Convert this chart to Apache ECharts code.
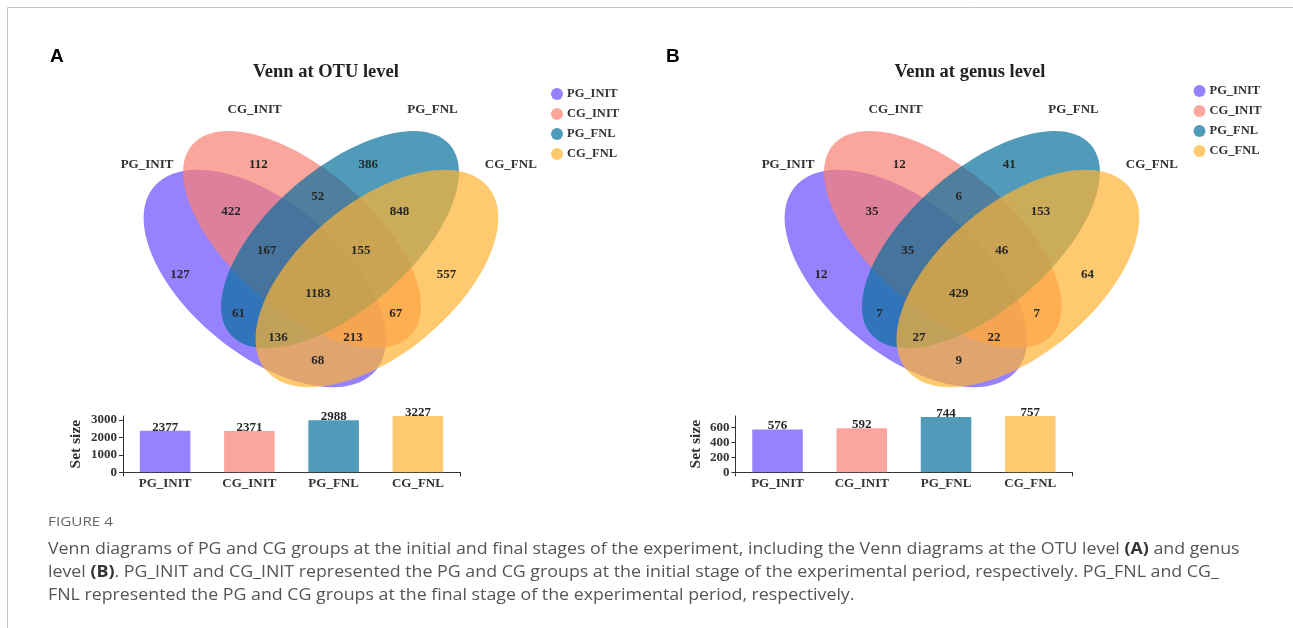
<!DOCTYPE html>
<html><head><meta charset="utf-8">
<script src="https://cdn.jsdelivr.net/npm/echarts@6/dist/echarts.min.js"></script>
<style>html,body{margin:0;padding:0;background:#fff}#c{width:1293px;height:628px}</style>
</head><body><div id="c"></div>
<script>
// ---------------- DATA ----------------
const setNames = ['PG_INIT', 'CG_INIT', 'PG_FNL', 'CG_FNL'];
// region membership code: one digit per set in setNames order
const regionKeys = ['1000','0100','0010','0001','1100','0110','0011','1010','0101','1001','1110','0111','1011','1101','1111'];
const otuRegionCounts   = [127, 112, 386, 557, 422, 52, 848, 61, 67, 68, 167, 155, 136, 213, 1183];
const genusRegionCounts = [12, 12, 41, 64, 35, 6, 153, 7, 7, 9, 35, 46, 27, 22, 429];
const otuSetSizes   = [2377, 2371, 2988, 3227];
const genusSetSizes = [576, 592, 744, 757];
const otuTickStep = 1000;
const genusTickStep = 200;
const panelLetters = ['A', 'B'];
const panelTitles = ['Venn at OTU level', 'Venn at genus level'];
const yAxisName = 'Set size';
const captionHead = 'FIGURE 4';
const captionLines = [
  'Venn diagrams of PG and CG groups at the initial and final stages of the experiment, including the Venn diagrams at the OTU level {b|(A)} and genus',
  'level {b|(B)}. PG_INIT and CG_INIT represented the PG and CG groups at the initial stage of the experimental period, respectively. PG_FNL and CG_',
  'FNL represented the PG and CG groups at the final stage of the experimental period, respectively.'
];

// ---------------- LAYOUT / STYLE ----------------
const setColors = ['rgba(105,76,255,0.7)', 'rgba(250,128,114,0.7)', 'rgba(5,111,156,0.7)', 'rgba(255,180,50,0.7)'];
// ellipse geometry in venn units (grid = 4 x 3 units)
const ellipseGeom = [
  [1.44, 1.785, 1.44, 0.76, -39.4],
  [1.81, 1.395, 1.45, 0.70, -40.8],
  [2.19, 1.395, 1.45, 0.70, 40.8],
  [2.56, 1.785, 1.44, 0.76, 39.4]
];
const regionAnchors = {
  '1000': [0.59, 1.743], '0100': [1.373, 0.65], '0010': [2.472, 0.65], '0001': [3.256, 1.743],
  '1100': [1.10, 1.12], '0110': [1.968, 0.967], '0011': [2.785, 1.12],
  '1010': [1.175, 2.133], '0101': [2.747, 2.133], '1001': [1.968, 2.607],
  '1110': [1.458, 1.51], '0111': [2.398, 1.51], '1011': [1.571, 2.373], '1101': [2.32, 2.373],
  '1111': [1.968, 1.94]
};
const setLabelAnchors = [[0.26, 0.65], [1.336, 0.10], [3.115, 0.10], [3.898, 0.65]];
const SERIF = '"Liberation Serif", "Times New Roman", serif';
const vennGrids = [{left: 121, top: 100, width: 400, height: 300}, {left: 762, top: 100, width: 400, height: 300}];
const barGrids = [{left: 123, top: 416, width: 337, height: 56.3}, {left: 735.4, top: 416, width: 337, height: 56.3}];

// measure caption to fit width
function measure(text, font) {
  const ctx = document.createElement('canvas').getContext('2d');
  ctx.font = font;
  return ctx.measureText(text.replace(/\{b\|([^}]*)\}/g, '$1')).width;
}
const capFont = '16px "Open Sans"';
const capScale = 1189 / measure(captionLines[0], capFont);
const headScale = 65 / measure(captionHead, '13px "Open Sans"');

const chart = echarts.init(document.getElementById('c'), null, {renderer: 'canvas'});

const grids = [], xAxes = [], yAxes = [], series = [];
[0, 1].forEach(p => grids.push(vennGrids[p]));
[0, 1].forEach(p => grids.push(barGrids[p]));

// venn axes
[0, 1].forEach(p => {
  xAxes.push({type: 'value', gridIndex: p, min: 0, max: 4, show: false});
  yAxes.push({type: 'value', gridIndex: p, min: 0, max: 3, inverse: true, show: false});
});
// bar axes
const setSizes = [otuSetSizes, genusSetSizes];
const steps = [otuTickStep, genusTickStep];
const nameGaps = [39, 31];
const barX = [], barY = [];
[0, 1].forEach(p => {
  const gi = 2 + p;
  barX.push(xAxes.length);
  xAxes.push({
    type: 'category', gridIndex: gi, data: setNames, position: 'bottom',
    axisLine: {show: false}, axisTick: {show: false},
    axisLabel: {margin: 5, fontFamily: SERIF, fontWeight: 'bold', fontSize: 13, color: '#333'}
  });
  xAxes.push({
    type: 'value', gridIndex: gi, min: 0, max: 4, interval: 4, position: 'bottom',
    axisLine: {show: true, lineStyle: {color: '#333', width: 1}},
    axisTick: {show: true, length: 4, lineStyle: {color: '#333'}},
    axisLabel: {show: false}, splitLine: {show: false}
  });
  barY.push(yAxes.length);
  yAxes.push({
    type: 'value', gridIndex: gi, min: 0, max: 'dataMax', interval: steps[p],
    axisLine: {show: true, lineStyle: {color: '#333', width: 1}},
    axisTick: {show: true, length: 4, lineStyle: {color: '#333'}},
    axisLabel: {margin: 6, showMaxLabel: false, formatter: v => String(v),
      fontFamily: SERIF, fontWeight: 'bold', fontSize: 13, color: '#333'},
    splitLine: {show: false},
    name: yAxisName, nameLocation: 'middle', nameRotate: 90, nameGap: nameGaps[p],
    nameTextStyle: {fontFamily: SERIF, fontWeight: 'bold', fontSize: 15.5, color: '#333'}
  });
});

const regionCounts = [otuRegionCounts, genusRegionCounts];
[0, 1].forEach(p => {
  setNames.forEach((nm, i) => {
    series.push({
      type: 'custom', name: nm, xAxisIndex: p, yAxisIndex: p, silent: true,
      itemStyle: {color: setColors[i]},
      data: [ellipseGeom[i]],
      renderItem: (params, api) => {
        const c = api.coord([api.value(0), api.value(1)]);
        const s = api.size([api.value(2), api.value(3)]);
        return {
          type: 'ellipse', x: c[0], y: c[1], rotation: api.value(4) * Math.PI / 180,
          shape: {cx: 0, cy: 0, rx: s[0], ry: s[1]},
          style: {fill: api.visual('color')}
        };
      }
    });
  });
  // region counts
  series.push({
    type: 'custom', xAxisIndex: p, yAxisIndex: p, silent: true, z: 5,
    data: regionKeys.map((k, i) => [regionAnchors[k][0], regionAnchors[k][1], regionCounts[p][i]]),
    renderItem: (params, api) => {
      const c = api.coord([api.value(0), api.value(1)]);
      return {type: 'text', x: c[0], y: c[1], style: {text: String(api.value(2)), fill: '#262626',
        font: 'bold 13px ' + SERIF, align: 'center', verticalAlign: 'middle'}};
    }
  });
  // set name labels
  series.push({
    type: 'custom', xAxisIndex: p, yAxisIndex: p, silent: true, z: 5,
    data: setNames.map((nm, i) => [setLabelAnchors[i][0], setLabelAnchors[i][1], i]),
    renderItem: (params, api) => {
      const c = api.coord([api.value(0), api.value(1)]);
      return {type: 'text', x: c[0], y: c[1], style: {text: setNames[api.value(2)], fill: '#333',
        font: 'bold 13px ' + SERIF, align: 'center', verticalAlign: 'middle'}};
    }
  });
  // bars
  series.push({
    type: 'bar', xAxisIndex: barX[p], yAxisIndex: barY[p], barWidth: '60%', silent: true,
    data: setSizes[p].map((v, i) => ({value: v, itemStyle: {color: setColors[i]}})),
    label: {show: true, position: 'top', distance: -3, fontFamily: SERIF, fontWeight: 'bold', fontSize: 13, color: '#262626'}
  });
});

const titles = [
  {text: panelLetters[0], left: 50, top: 47, padding: 0, textStyle: {fontFamily: '"Liberation Sans", Arial, sans-serif', fontWeight: 'bold', fontSize: 19, color: '#000'}},
  {text: panelLetters[1], left: 666, top: 47, padding: 0, textStyle: {fontFamily: '"Liberation Sans", Arial, sans-serif', fontWeight: 'bold', fontSize: 19, color: '#000'}},
  {text: panelTitles[0], left: 326, top: 63, padding: 0, textAlign: 'center', textStyle: {fontFamily: SERIF, fontWeight: 'bold', fontSize: 18.5, color: '#222'}},
  {text: panelTitles[1], left: 970, top: 63, padding: 0, textAlign: 'center', textStyle: {fontFamily: SERIF, fontWeight: 'bold', fontSize: 18.5, color: '#222'}}
];

const legendBase = {
  data: setNames, orient: 'vertical', icon: 'circle', itemWidth: 12, itemHeight: 12, itemGap: 7,
  selectedMode: false, padding: 0,
  textStyle: {fontFamily: SERIF, fontWeight: 'bold', fontSize: 12.5, color: '#333', padding: [0, 0, 0, -1]}
};
const legends = [
  Object.assign({}, legendBase, {left: 551, top: 87.5}),
  Object.assign({}, legendBase, {left: 1193.5, top: 84.5})
];

const capY = [549, 572, 595];
const graphic = [
  {type: 'line', silent: true, shape: {x1: 7.5, y1: 7.5, x2: 1293, y2: 7.5}, style: {stroke: '#c4c4c4', lineWidth: 1}},
  {type: 'line', silent: true, shape: {x1: 7.5, y1: 7.5, x2: 7.5, y2: 628}, style: {stroke: '#c4c4c4', lineWidth: 1}},
  {type: 'text', silent: true, x: 48, y: 522, scaleX: headScale,
   style: {text: captionHead, font: '13px "Open Sans"', fill: '#666', verticalAlign: 'middle'}}
].concat(captionLines.map((t, i) => ({
  type: 'text', silent: true, x: 48, y: capY[i], scaleX: capScale,
  style: {text: t, font: capFont, fill: '#555', verticalAlign: 'middle',
    rich: {b: {font: 'bold 16px "Open Sans"', fill: '#333'}}}
})));

chart.setOption({
  animation: false,
  backgroundColor: '#fff',
  title: titles,
  legend: legends,
  grid: grids,
  xAxis: xAxes,
  yAxis: yAxes,
  series: series,
  graphic: graphic
});
</script></body></html>
